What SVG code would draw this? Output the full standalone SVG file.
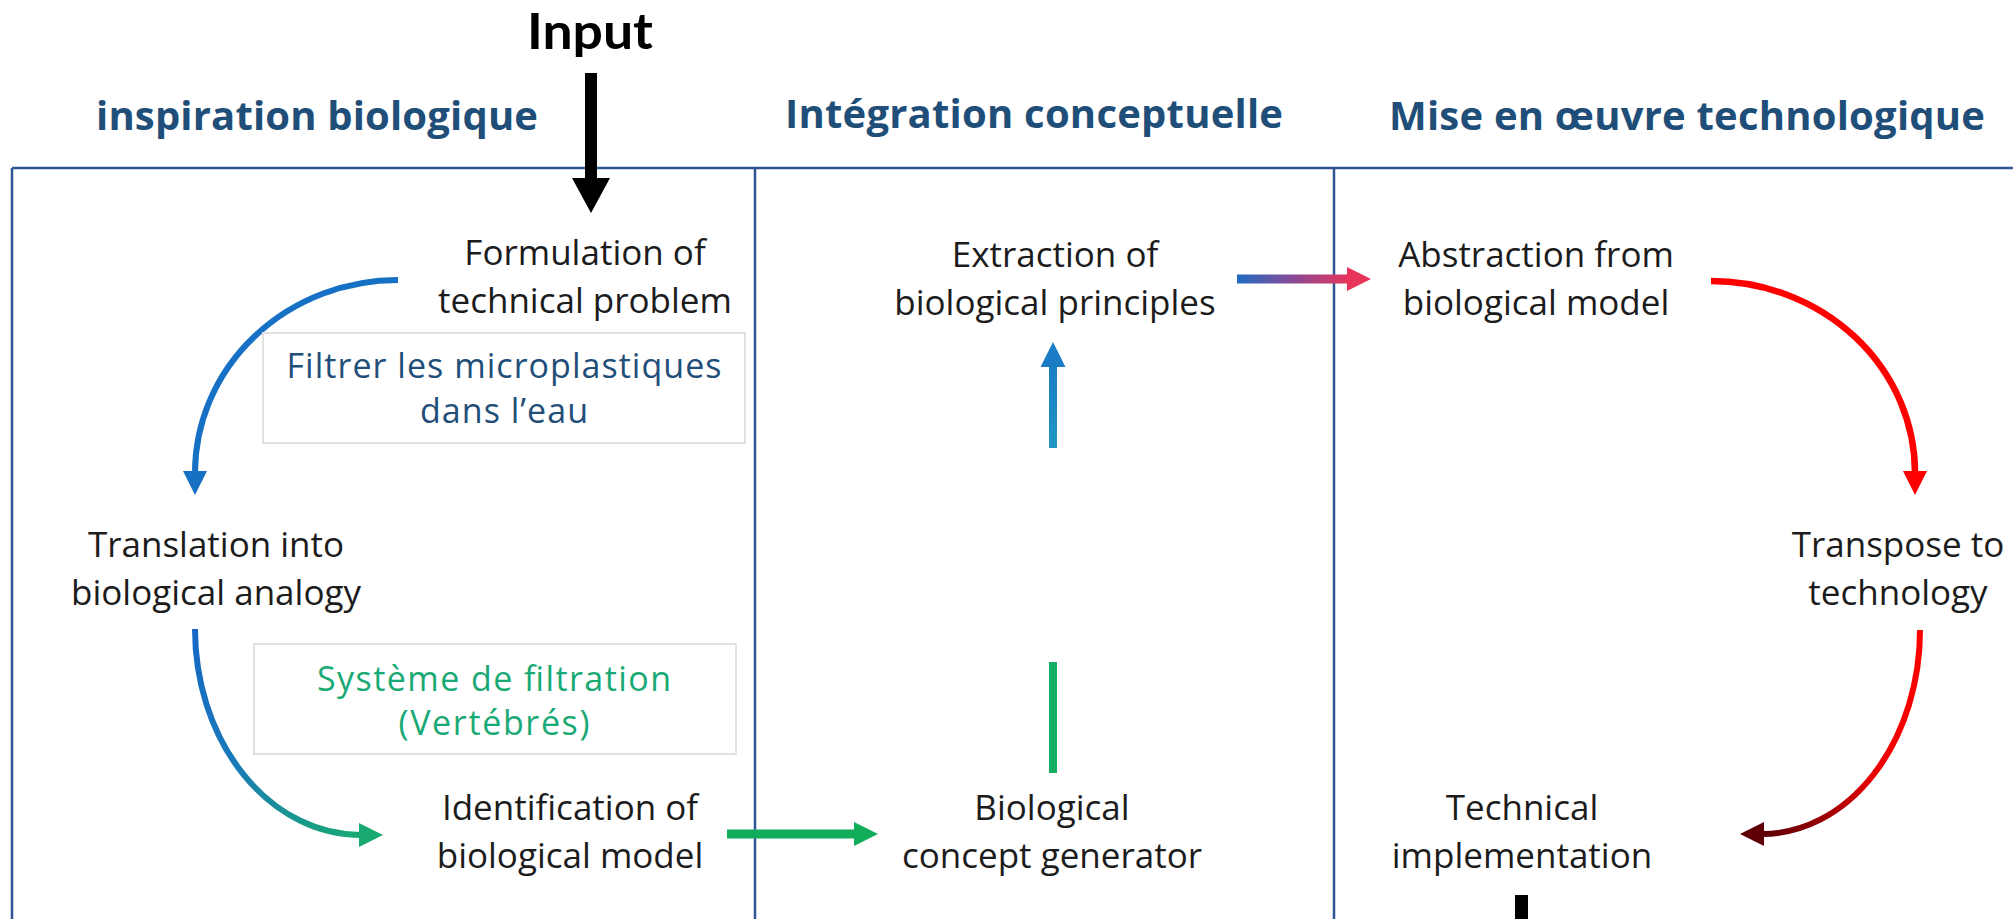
<svg xmlns="http://www.w3.org/2000/svg" width="2013" height="919" viewBox="0 0 2013 919">
  <style>
    .lbl { font-family: "Open Sans", "Liberation Sans", sans-serif; font-size: 35px; fill: #1c1c1c; text-anchor: middle; }
    .head { font-family: "Open Sans", "Liberation Sans", sans-serif; font-size: 40px; font-weight: bold; fill: #1f4e79; }
    .boxtxt { font-family: "Open Sans", "Liberation Sans", sans-serif; font-size: 34px; text-anchor: middle; }
    .box { fill: #ffffff; stroke: #e1e1e1; stroke-width: 2; }
    .frame { stroke: #2f5597; stroke-width: 2.5; fill: none; }
    .conn { fill: none; stroke-linecap: butt; }
  </style>
  <defs>
    <marker id="ah-blue" viewBox="0 0 24 24" markerWidth="24" markerHeight="24" refX="2" refY="12" orient="auto" markerUnits="userSpaceOnUse">
      <path d="M0,0 L24,12 L0,24 Z" fill="#1670c4"/>
    </marker>
    <marker id="ah-teal" viewBox="0 0 24 24" markerWidth="24" markerHeight="24" refX="2" refY="12" orient="auto" markerUnits="userSpaceOnUse">
      <path d="M0,0 L24,12 L0,24 Z" fill="#19aa72"/>
    </marker>
    <marker id="ah-green" viewBox="0 0 24 24" markerWidth="24" markerHeight="24" refX="2" refY="12" orient="auto" markerUnits="userSpaceOnUse">
      <path d="M0,0 L24,12 L0,24 Z" fill="#12ad5a"/>
    </marker>
    <marker id="ah-up" viewBox="0 0 24 24" markerWidth="25" markerHeight="25" refX="2" refY="12" orient="auto" markerUnits="userSpaceOnUse">
      <path d="M0,0 L24,12 L0,24 Z" fill="#1a7cc4"/>
    </marker>
    <marker id="ah-pink" viewBox="0 0 24 24" markerWidth="24" markerHeight="24" refX="2" refY="12" orient="auto" markerUnits="userSpaceOnUse">
      <path d="M0,0 L24,12 L0,24 Z" fill="#e8335a"/>
    </marker>
    <marker id="ah-red" viewBox="0 0 24 24" markerWidth="24" markerHeight="24" refX="2" refY="12" orient="auto" markerUnits="userSpaceOnUse">
      <path d="M0,0 L24,12 L0,24 Z" fill="#ff0000"/>
    </marker>
    <marker id="ah-maroon" viewBox="0 0 24 24" markerWidth="24" markerHeight="24" refX="2" refY="12" orient="auto" markerUnits="userSpaceOnUse">
      <path d="M0,0 L24,12 L0,24 Z" fill="#5e0006"/>
    </marker>
    <linearGradient id="g-blueteal" gradientUnits="userSpaceOnUse" x1="195" y1="629" x2="361" y2="835">
      <stop offset="0" stop-color="#1568c4"/>
      <stop offset="0.5" stop-color="#1a7bb8"/>
      <stop offset="1" stop-color="#19aa74"/>
    </linearGradient>
    <linearGradient id="g-extr" gradientUnits="userSpaceOnUse" x1="1237" y1="279" x2="1350" y2="279">
      <stop offset="0" stop-color="#1f6dc2"/>
      <stop offset="0.5" stop-color="#8a4a96"/>
      <stop offset="1" stop-color="#e8335a"/>
    </linearGradient>
    <linearGradient id="g-up" gradientUnits="userSpaceOnUse" x1="1053" y1="448" x2="1053" y2="360">
      <stop offset="0" stop-color="#2196c6"/>
      <stop offset="1" stop-color="#1a7cc4"/>
    </linearGradient>
    <linearGradient id="g-redmaroon" gradientUnits="userSpaceOnUse" x1="1920" y1="630" x2="1762" y2="834">
      <stop offset="0" stop-color="#ff0000"/>
      <stop offset="0.55" stop-color="#ee0000"/>
      <stop offset="1" stop-color="#5e0006"/>
    </linearGradient>
  </defs>

  <rect x="0" y="0" width="2013" height="919" fill="#ffffff"/>

  <g id="frame">
    <line class="frame" x1="12" y1="168" x2="2013" y2="168"/>
    <line class="frame" x1="12" y1="168" x2="12" y2="919"/>
    <line class="frame" x1="755" y1="168" x2="755" y2="919"/>
    <line class="frame" x1="1334" y1="168" x2="1334" y2="919"/>
  </g>

  <g id="headings">
    <text class="head" x="96" y="130" textLength="442">inspiration biologique</text>
    <text class="head" x="785" y="128" textLength="498">Intégration conceptuelle</text>
    <text class="head" x="1389" y="130" textLength="596">Mise en œuvre technologique</text>
  </g>

  <g id="input">
    <text x="527" y="49" font-family="Lato, 'Open Sans', 'Liberation Sans', sans-serif" font-size="50" font-weight="bold" fill="#000000" textLength="126" lengthAdjust="spacingAndGlyphs">Input</text>
  </g>

  <g id="connectors">
    <rect x="585" y="73" width="12" height="107" fill="#000000"/>
    <polygon points="572,178 610,178 591,213" fill="#000000"/>
    <path class="conn" d="M398,280 A203,193 0 0 0 195,473" stroke="#1670c4" stroke-width="6" marker-end="url(#ah-blue)"/>
    <path class="conn" d="M195,629 A166,206 0 0 0 361,835" stroke="url(#g-blueteal)" stroke-width="6" marker-end="url(#ah-teal)"/>
    <path class="conn" d="M727,834 L856,834" stroke="#12ad5a" stroke-width="9" marker-end="url(#ah-green)"/>
    <path class="conn" d="M1053,773 L1053,662" stroke="#13ad63" stroke-width="8"/>
    <path class="conn" d="M1053,448 L1053,365" stroke="url(#g-up)" stroke-width="8" marker-end="url(#ah-up)"/>
    <path class="conn" d="M1237,279 L1349,279" stroke="url(#g-extr)" stroke-width="9" marker-end="url(#ah-pink)"/>
    <path class="conn" d="M1711,281 A204,192 0 0 1 1915,473" stroke="#ff0000" stroke-width="6.5" marker-end="url(#ah-red)"/>
    <path class="conn" d="M1920,630 A158,204 0 0 1 1762,834" stroke="url(#g-redmaroon)" stroke-width="6" marker-end="url(#ah-maroon)"/>
    <rect x="1515" y="895" width="13" height="24" fill="#000000"/>
  </g>

  <g id="node-formulation">
    <text class="lbl" x="585" y="265">Formulation of</text>
    <text class="lbl" x="585" y="313">technical problem</text>
  </g>

  <g id="note-filtrer">
    <rect class="box" x="263" y="333" width="482" height="110"/>
    <text class="boxtxt" x="504" y="378" fill="#1f4e79" textLength="435">Filtrer les microplastiques</text>
    <text class="boxtxt" x="504" y="423" fill="#1f4e79" textLength="168">dans l’eau</text>
  </g>

  <g id="node-translation">
    <text class="lbl" x="216" y="557">Translation into</text>
    <text class="lbl" x="216" y="605">biological analogy</text>
  </g>

  <g id="note-systeme">
    <rect class="box" x="254" y="644" width="482" height="110"/>
    <text class="boxtxt" x="494" y="691" fill="#19a974" textLength="354">Système de filtration</text>
    <text class="boxtxt" x="494" y="735" fill="#19a974" textLength="191">(Vertébrés)</text>
  </g>

  <g id="node-identification">
    <text class="lbl" x="570" y="820">Identification of</text>
    <text class="lbl" x="570" y="868">biological model</text>
  </g>

  <g id="node-concept-generator">
    <text class="lbl" x="1052" y="820">Biological</text>
    <text class="lbl" x="1052" y="868">concept generator</text>
  </g>

  <g id="node-extraction">
    <text class="lbl" x="1055" y="267">Extraction of</text>
    <text class="lbl" x="1055" y="315">biological principles</text>
  </g>

  <g id="node-abstraction">
    <text class="lbl" x="1536" y="267">Abstraction from</text>
    <text class="lbl" x="1536" y="315">biological model</text>
  </g>

  <g id="node-transpose">
    <text class="lbl" x="1898" y="557">Transpose to</text>
    <text class="lbl" x="1898" y="605">technology</text>
  </g>

  <g id="node-implementation">
    <text class="lbl" x="1522" y="820">Technical</text>
    <text class="lbl" x="1522" y="868">implementation</text>
  </g>
</svg>
